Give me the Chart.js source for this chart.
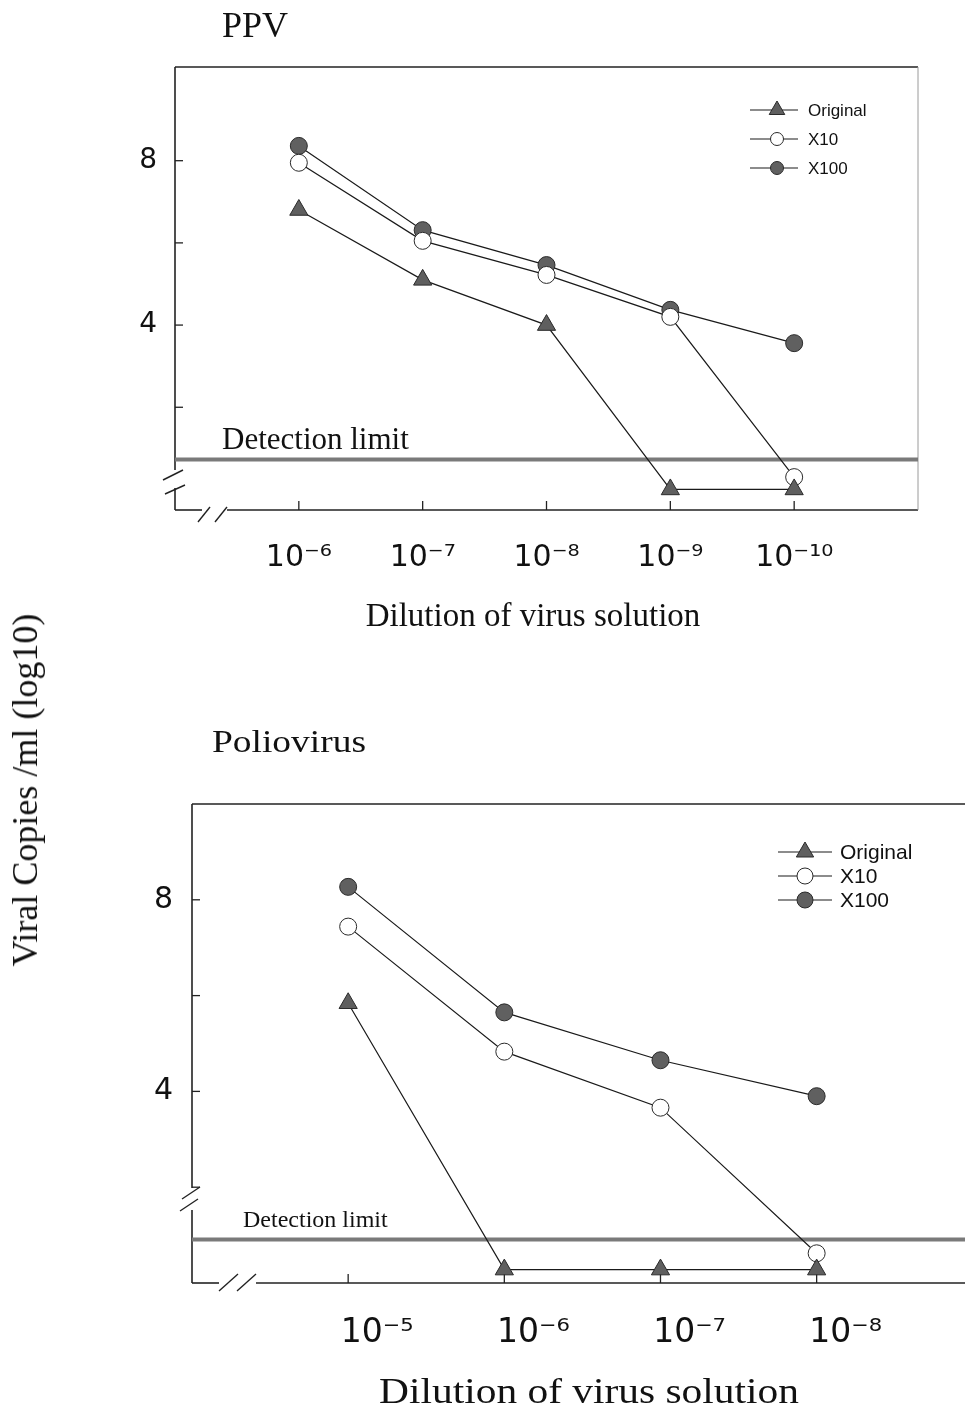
<!DOCTYPE html>
<html><head><meta charset="utf-8">
<script src="https://cdn.jsdelivr.net/npm/chart.js@4.4.1/dist/chart.umd.min.js"></script>
<style>
html,body{margin:0;padding:0;background:#fff;width:965px;height:1415px;overflow:hidden;position:relative}
.t{position:absolute;font-family:"Liberation Serif","Times New Roman",serif;color:#111;white-space:nowrap;line-height:1}
#c1{position:absolute;left:0;top:0}
#c2{position:absolute;left:0;top:690px}
</style></head>
<body>
<canvas id="c1" width="965" height="650"></canvas>
<canvas id="c2" width="965" height="725"></canvas>
<div class="t" style="left:222px;top:7px;font-size:36px">PPV</div>
<div class="t" style="left:533px;top:599px;font-size:33px;transform:translateX(-50%)">Dilution of virus solution</div>
<div class="t" style="left:212px;top:725px;font-size:32px;transform-origin:0 0;transform:scaleX(1.17)">Poliovirus</div>
<div class="t" style="left:589px;top:1373px;font-size:36px;transform:translateX(-50%) scaleX(1.15)">Dilution of virus solution</div>
<div class="t" style="left:25px;top:790px;font-size:36px;transform:translate(-50%,-50%) rotate(-90deg)">Viral Copies /ml (log10)</div>
<script>
// ---- data ----
const seriesNames = ['Original', 'X10', 'X100'];
const ppvCategories = ['10⁻⁶', '10⁻⁷', '10⁻⁸', '10⁻⁹', '10⁻¹⁰'];
const ppvOriginal = [6.8, 5.1, 4.0, 0.0, 0.0];
const ppvX10 = [7.95, 6.05, 5.22, 4.2, 0.3];
const ppvX100 = [8.36, 6.31, 5.46, 4.37, 3.56];
const ppvDetectionLimit = [0.73];
const polioCategories = ['10⁻⁵', '10⁻⁶', '10⁻⁷', '10⁻⁸'];
const polioOriginal = [5.84, 0.28, 0.28, 0.28];
const polioX10 = [7.44, 4.83, 3.66, 0.62];
const polioX100 = [8.27, 5.65, 4.65, 3.9];
const polioDetectionLimit = [0.91];
const yLabelValues = [4, 8];
const yTickMarks = [2, 4, 6, 8];
const detectionLabel = 'Detection limit';

// ---- styles ----
const seriesStyles = [
  { pointStyle: 'triangle', fill: '#5f5f5f' },
  { pointStyle: 'circle', fill: '#ffffff' },
  { pointStyle: 'circle', fill: '#606060' }
];

function seriesDataset(name, values, style, radius) {
  return {
    label: name,
    data: values.map((v, i) => ({ x: i, y: v })),
    borderColor: '#1a1a1a', borderWidth: 1.2,
    pointStyle: style.pointStyle,
    pointRadius: style.pointStyle === 'triangle' ? radius + 2 : radius,
    pointBackgroundColor: style.fill,
    pointBorderColor: '#2a2a2a', pointBorderWidth: 1,
    tension: 0, order: 0, isSeries: true
  };
}
function detectionDataset(value, xmin, xmax) {
  return {
    label: detectionLabel,
    data: [{ x: xmin, y: value }, { x: xmax, y: value }],
    borderColor: '#7a7a7a', borderWidth: 4, pointRadius: 0, order: 10, isSeries: false
  };
}

const framePlugin = {
  id: 'frame',
  beforeDatasetsDraw(chart, args, o) {
    const { ctx, chartArea: a, scales } = chart;
    const x = scales.x, y = scales.y;
    ctx.save();
    ctx.strokeStyle = '#222'; ctx.lineWidth = 1.6;
    const seg = (x1, y1, x2, y2) => { ctx.beginPath(); ctx.moveTo(x1, y1); ctx.lineTo(x2, y2); ctx.stroke(); };
    seg(a.left, a.top, a.right, a.top);
    seg(a.left, a.top, a.left, a.bottom - o.leftGap[1]);
    seg(a.left, a.bottom - o.leftGap[0], a.left, a.bottom);
    seg(a.left, a.bottom, a.left + o.bottomGap[0], a.bottom);
    seg(a.left + o.bottomGap[1], a.bottom, a.right, a.bottom);
    ctx.lineWidth = 1.4;
    o.leftSlashes.forEach(s => seg(a.left + s[0], a.bottom + s[1], a.left + s[2], a.bottom + s[3]));
    o.bottomSlashes.forEach(s => seg(a.left + s[0], a.bottom + s[1], a.left + s[2], a.bottom + s[3]));
    if (o.rightBorder) { ctx.strokeStyle = '#9a9a9a'; ctx.lineWidth = 1; seg(a.right, a.top, a.right, a.bottom); }
    ctx.strokeStyle = '#222'; ctx.lineWidth = 1.3;
    o.categories.forEach((c, i) => { const px = x.getPixelForValue(i); seg(px, a.bottom, px, a.bottom - 9); });
    yTickMarks.forEach(v => { const py = y.getPixelForValue(v); seg(a.left, py, a.left + 8, py); });
    // detection label
    ctx.fillStyle = '#111';
    ctx.font = o.detFont;
    ctx.textBaseline = 'alphabetic'; ctx.textAlign = 'left';
    ctx.save();
    const ly = y.getPixelForValue(o.detection) - o.detGap;
    ctx.translate(a.left + o.detDx, ly);
    ctx.scale(o.detScale, 1);
    ctx.fillText(detectionLabel, 0, 0);
    ctx.restore();
    ctx.restore();
  }
};

const legendPlugin = {
  id: 'figLegend',
  afterDatasetsDraw(chart, args, o) {
    const { ctx, chartArea: a } = chart;
    ctx.save();
    const series = chart.data.datasets.filter(d => d.isSeries);
    series.forEach((d, i) => {
      const yy = a.top + o.rowTop + i * o.rowGap;
      const x0 = o.lineStart, x1 = o.lineEnd, xm = o.marker;
      ctx.strokeStyle = '#1a1a1a'; ctx.lineWidth = 1.2;
      ctx.beginPath(); ctx.moveTo(x0, yy); ctx.lineTo(x1, yy); ctx.stroke();
      ctx.fillStyle = d.pointBackgroundColor; ctx.strokeStyle = d.pointBorderColor; ctx.lineWidth = 1;
      const r = d.pointStyle === 'triangle' ? o.triR : o.circR;
      if (Chart.helpers && Chart.helpers.drawPoint) {
        Chart.helpers.drawPoint(ctx, { pointStyle: d.pointStyle, radius: r, rotation: 0, borderWidth: 1 }, xm, yy);
      } else {
        ctx.beginPath(); ctx.arc(xm, yy, r, 0, Math.PI * 2); ctx.fill(); ctx.stroke();
      }
      ctx.fillStyle = '#111'; ctx.font = o.font; ctx.textBaseline = 'middle'; ctx.textAlign = 'left';
      ctx.fillText(d.label, o.text, yy + 1);
    });
    ctx.restore();
  }
};

function makeChart(id, cats, orig, x10, x100, det, cfg) {
  const datasets = [
    seriesDataset(seriesNames[0], orig, seriesStyles[0], 8.5),
    seriesDataset(seriesNames[1], x10, seriesStyles[1], 8.5),
    seriesDataset(seriesNames[2], x100, seriesStyles[2], 8.5),
    detectionDataset(det[0], cfg.xmin, cfg.xmax)
  ];
  return new Chart(document.getElementById(id), {
    type: 'line',
    data: { datasets },
    plugins: [framePlugin, legendPlugin],
    options: {
      responsive: false, animation: false, devicePixelRatio: 1,
      layout: { autoPadding: false, padding: cfg.padding },
      plugins: {
        legend: { display: false }, tooltip: { enabled: false },
        frame: Object.assign({ categories: cats, detection: det[0] }, cfg.frame),
        figLegend: cfg.legend
      },
      scales: {
        x: {
          type: 'linear', min: cfg.xmin, max: cfg.xmax,
          grid: { display: false }, border: { display: false },
          afterFit: s => { s.height = 70; },
          afterBuildTicks: s => { s.ticks = cats.map((c, i) => ({ value: i })); },
          ticks: {
            autoSkip: false, maxRotation: 0, minRotation: 0,
            padding: cfg.xPad, labelOffset: cfg.xOffset, color: '#111',
            font: { family: 'DejaVu Sans', size: cfg.xFont },
            callback: v => (Number.isInteger(v) && v >= 0 && v < cats.length) ? cats[v] : ''
          }
        },
        y: {
          type: 'linear', min: cfg.ymin, max: cfg.ymax,
          grid: { display: false }, border: { display: false },
          afterFit: s => { s.width = cfg.yWidth; },
          afterBuildTicks: s => { s.ticks = yLabelValues.map(v => ({ value: v })); },
          ticks: {
            padding: cfg.yPad, color: '#111',
            font: { family: 'DejaVu Sans', size: cfg.yFont },
            callback: v => String(v)
          }
        }
      }
    }
  });
}

makeChart('c1', ppvCategories, ppvOriginal, ppvX10, ppvX100, ppvDetectionLimit, {
  xmin: -1, xmax: 5, ymin: -0.5, ymax: 10.28,
  padding: { left: 0, top: 67, right: 47, bottom: 70 },
  yWidth: 175, xPad: 22, xOffset: 0, xFont: 30, yPad: 10, yFont: 28,
  frame: {
    leftGap: [22, 40], bottomGap: [27, 52],
    leftSlashes: [[-12, -30, 8, -40], [-10, -16, 10, -25]],
    bottomSlashes: [[23, 12, 35, -3], [40, 12, 52, -3]],
    rightBorder: true, detFont: '31px "Liberation Serif"', detGap: 10, detDx: 47, detScale: 1
  },
  legend: { rowTop: 43, rowGap: 29, lineStart: 750, lineEnd: 798, marker: 777, text: 808, triR: 9, circR: 6.5, font: '17px "Liberation Sans"' }
});

makeChart('c2', polioCategories, polioOriginal, polioX10, polioX100, polioDetectionLimit, {
  xmin: -1, xmax: 3.95, ymin: 0, ymax: 10,
  padding: { left: 0, top: 114, right: 0, bottom: 62 },
  yWidth: 192, xPad: 23, xOffset: 29, xFont: 33, yPad: 11, yFont: 30,
  frame: {
    leftGap: [73, 95], bottomGap: [27, 64],
    leftSlashes: [[-10, -84, 8, -96], [-12, -72, 6, -84]],
    bottomSlashes: [[27, 8, 46, -9], [45, 8, 64, -9]],
    rightBorder: false, detFont: '24px "Liberation Serif"', detGap: 12, detDx: 51, detScale: 1
  },
  legend: { rowTop: 48, rowGap: 24, lineStart: 778, lineEnd: 832, marker: 805, text: 840, triR: 10, circR: 8, font: '21px "Liberation Sans"' }
});
</script>
</body></html>
